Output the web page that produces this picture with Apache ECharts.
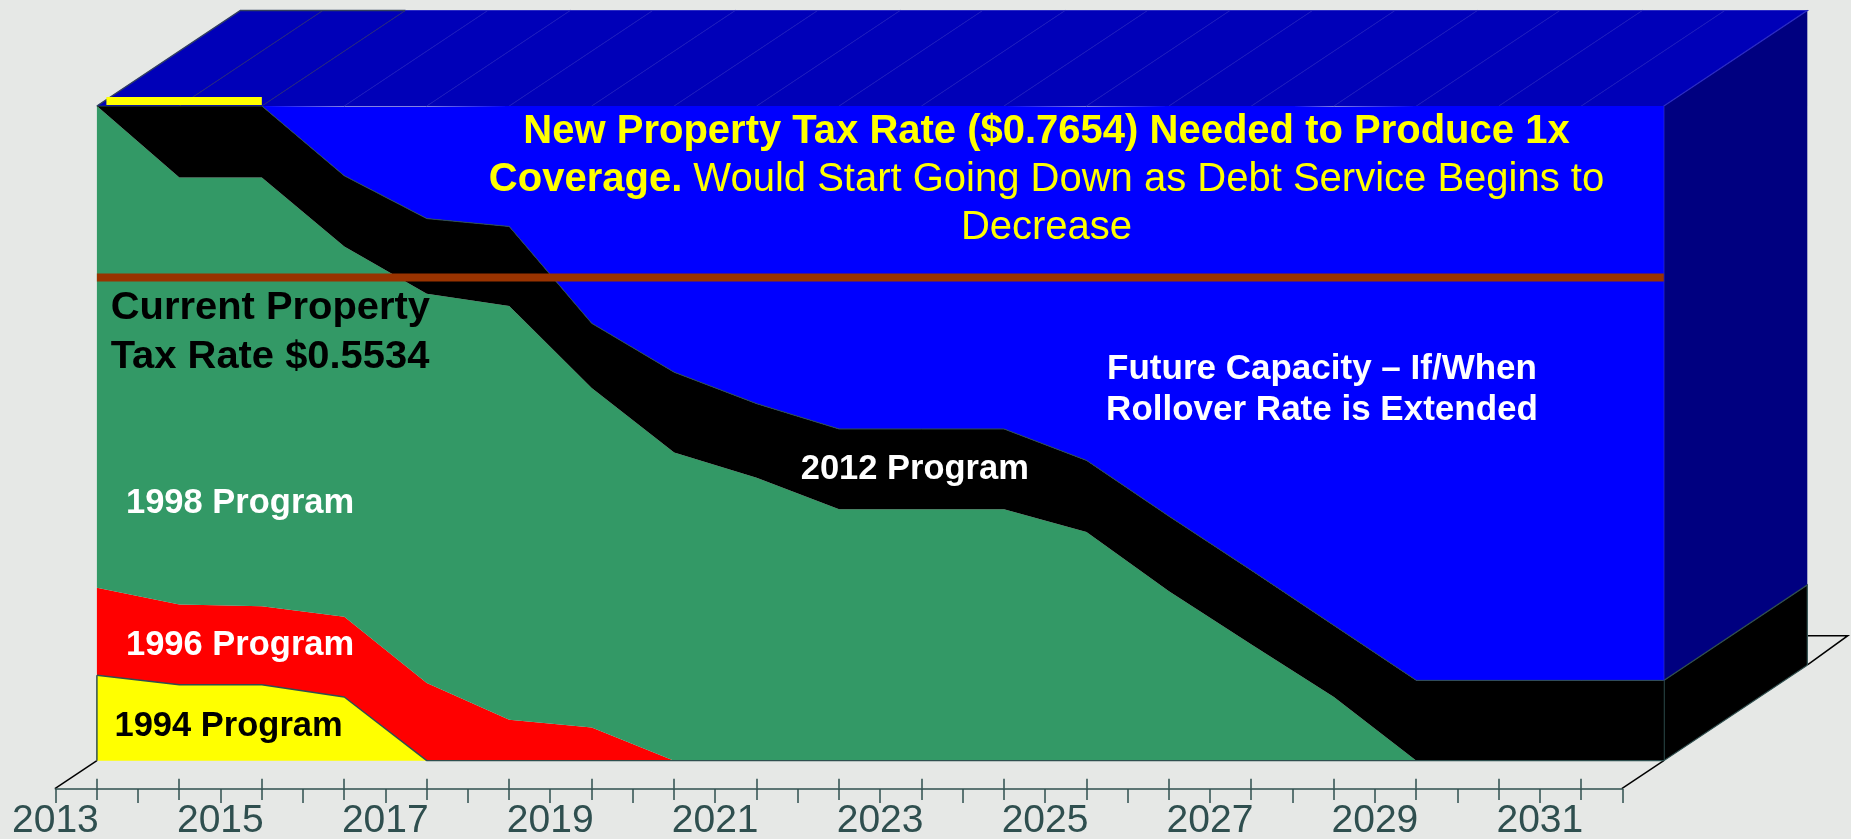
<!DOCTYPE html>
<html><head><meta charset="utf-8">
<style>html,body{margin:0;padding:0;background:#E6E8E6}#c{width:1851px;height:839px}</style>
<script src="https://cdn.jsdelivr.net/npm/echarts@6/dist/echarts.min.js"></script>
</head><body><div id="c"></div>
<script>
const categories = ['2013','2014','2015','2016','2017','2018','2019','2020','2021','2022','2023','2024','2025','2026','2027','2028','2029','2030','2031','2032'];
const tickLabels = [2013,2015,2017,2019,2021,2023,2025,2027,2029,2031];
const program1994 = [.098,.087,.087,.073,0,0,0,0,0,0,0,0,0,0,0,0,0,0,0,0];
const program1996 = [.100,.092,.090,.092,.089,.047,.038,0,0,0,0,0,0,0,0,0,0,0,0,0];
const program1998 = [.552,.489,.491,.424,.446,.474,.389,.353,.324,.288,.288,.288,.262,.194,.133,.073,0,0,0,0];
const program2012 = [0,.082,.082,.081,.086,.091,.074,.092,.085,.092,.092,.092,.082,.086,.085,.082,.092,.092,.092,.092];
const futureCapacity = [0,0,0,.079,.128,.138,.249,.306,.341,.370,.370,.370,.405,.470,.533,.594,.658,.658,.658,.658];
const currentRate = [.5534,.5534,.5534,.5534,.5534,.5534,.5534,.5534,.5534,.5534,.5534,.5534,.5534,.5534,.5534,.5534,.5534,.5534,.5534,.5534];
const yMax = 0.75;

const DX = 143.5, DY = -95.5;
const SLATE = '#2F4F4F';
const font = '"Liberation Sans", Arial, sans-serif';
const chart = echarts.init(document.getElementById('c'));
const last = categories.length - 1;
const off = (p, dx, dy) => [p[0] + dx, p[1] + dy];

function floorItem(params, api) {
  if (params.dataIndex !== 0) return null;
  const a = api.coord([0, 0]), b = api.coord([last, 0]);
  const st = {fill: null, stroke: '#000', lineWidth: 1.5};
  return {type: 'group', children: [
    {type: 'polyline', shape: {points: [off(a, -42, 28), a]}, style: st},
    {type: 'polyline', shape: {points: [off(b, -42, 28), b]}, style: st},
    {type: 'polyline', shape: {points: [off(b, 144, -96), off(b, 184, -125), off(b, 144, -125)]}, style: st}
  ]};
}
function depthItem(params, api) {
  const i = params.dataIndex;
  const a = api.coord([i, yMax]);
  const kids = [];
  if (i < last) {
    const b = api.coord([i + 1, yMax]);
    kids.push({type: 'polygon', shape: {points: [a, b, off(b, DX, DY), off(a, DX, DY)]},
      style: {fill: '#0000B8', stroke: '#0000B8', lineWidth: .5}});
  }
  if (i > 0 && i < last) {
    kids.push({type: 'polyline', z2: 2, shape: {points: [a, off(a, DX, DY)]},
      style: {fill: null, stroke: i <= 2 ? '#33375f' : '#2222bf', lineWidth: .7}});
  }
  if (i === 0) {
    kids.push({type: 'polyline', z2: 3, shape: {points: [a, off(a, DX, DY), off(api.coord([2, yMax]), DX, DY)]},
      style: {fill: null, stroke: '#33415f', lineWidth: 1.5}});
  }
  if (i === last) {
    const m = api.coord([i, program2012[i]]), z = api.coord([i, 0]);
    kids.push(
      {type: 'polygon', shape: {points: [a, off(a, DX, DY), off(m, DX, DY), m]}, style: {fill: '#000080'}},
      {type: 'polygon', z2: 1, shape: {points: [m, off(m, DX, DY), off(z, DX, DY), z]},
        style: {fill: '#000', stroke: SLATE, lineWidth: 1.2}},
      {type: 'polyline', z2: 3, shape: {points: [off(api.coord([2, yMax]), DX, DY), off(a, DX, DY), a, m]},
        style: {fill: null, stroke: '#2b2bc4', lineWidth: 1.2}},
      {type: 'polyline', z2: 3, shape: {points: [m, z]}, style: {fill: null, stroke: SLATE, lineWidth: 1.5}}
    );
  }
  return {type: 'group', children: kids};
}
function frontItem(params, api) {
  if (params.dataIndex !== 0) return null;
  const top = api.coord([0, yMax]), right = api.coord([2, yMax]);
  const y0 = api.coord([0, 0]), y1 = api.coord([0, program1994[0]]);
  return {type: 'group', children: [
    {type: 'rect', shape: {x: top[0] + 9.5, y: top[1] - 9, width: right[0] - top[0] - 9.5, height: 8}, style: {fill: '#FFFF00'}},
    {type: 'polyline', shape: {points: [y1, y0]}, style: {fill: null, stroke: SLATE, lineWidth: 1.5}}
  ]};
}
const areaSeries = (name, data, color, lineColor, lineWidth) => ({
  name, type: 'line', stack: 'rate', data, symbol: 'none', z: 2,
  areaStyle: {color, opacity: 1},
  lineStyle: {color: lineColor, width: lineWidth}
});
const custom = (renderItem, z) => ({
  type: 'custom', renderItem, z, silent: true,
  data: categories.map((_, i) => [i]), encode: {x: 0},
  xAxisIndex: 0, yAxisIndex: 0
});
const txt = (text, x, y, size, fill, weight, scaleX, align) => ({
  type: 'text', x, y, z: 20, scaleX: scaleX || 1,
  style: {text, fill, font: (weight || 'bold') + ' ' + size + 'px ' + font, textAlign: align || 'left', textVerticalAlign: 'middle'}
});

chart.setOption({
  backgroundColor: '#E6E8E6',
  animation: false,
  grid: [
    {left: 96.9, top: 106, width: 1566.9, height: 654.7},
    {left: 55.4, top: 788.7, width: 1566.9, height: 1}
  ],
  xAxis: [
    {type: 'category', data: categories, boundaryGap: false, show: false, gridIndex: 0},
    {type: 'value', gridIndex: 1, position: 'bottom', min: 2013, max: 2032, interval: 1,
      splitLine: {show: false},
      axisLine: {show: true, lineStyle: {color: SLATE, width: 1.5}},
      axisTick: {show: true, length: 14, lineStyle: {color: SLATE, width: 1.5}},
      minorTick: {show: true, splitNumber: 2, length: 11, lineStyle: {color: SLATE, width: 1.5}},
      axisLabel: {show: true, color: SLATE, fontFamily: font, fontSize: 39, margin: 13, hideOverlap: false, showMinLabel: true,
        formatter: v => tickLabels.includes(v) ? String(v) : ''}},
    {type: 'value', gridIndex: 1, position: 'top', min: 2013, max: 2032, interval: 1,
      splitLine: {show: false}, axisLine: {show: false}, axisTick: {show: false}, axisLabel: {show: false},
      minorTick: {show: true, splitNumber: 2, length: 10, lineStyle: {color: SLATE, width: 1.5}}}
  ],
  yAxis: [
    {type: 'value', min: 0, max: yMax, show: false, gridIndex: 0},
    {type: 'value', min: 0, max: 1, show: false, gridIndex: 1}
  ],
  series: [
    custom(floorItem, 0),
    custom(depthItem, 1),
    areaSeries('1994 Program', program1994, '#FFFF00', SLATE, 1.5),
    areaSeries('1996 Program', program1996, '#FF0000', 'rgba(0,0,0,0)', 0),
    areaSeries('1998 Program', program1998, '#339966', 'rgba(0,0,0,0)', 0),
    areaSeries('2012 Program', program2012, '#000000', SLATE, 1),
    areaSeries('Future Capacity', futureCapacity, '#0000FF', 'rgba(0,0,0,0)', 0),
    {name: 'Current Property Tax Rate', type: 'line', data: currentRate, symbol: 'none', z: 5,
      lineStyle: {color: '#993300', width: 8, cap: 'butt'}},
    custom(frontItem, 6)
  ],
  graphic: [
    txt('New Property Tax Rate ($0.7654) Needed to Produce 1x', 1046.5, 132, 40, '#FFFF00', 'bold', 1, 'center'),
    {type: 'text', x: 1046.5, y: 179.5, z: 20, style: {
      text: '{b|Coverage.}{r| Would Start Going Down as Debt Service Begins to}', textAlign: 'center', textVerticalAlign: 'middle',
      rich: {b: {fill: '#FFFF00', font: 'bold 40px ' + font}, r: {fill: '#FFFF00', font: 'normal 40px ' + font}}}},
    txt('Decrease', 1046.5, 228, 40, '#FFFF00', 'normal', 1, 'center'),
    txt('Current Property', 110.7, 308.5, 38, '#000', 'bold', 1.05),
    txt('Tax Rate $0.5534', 110.7, 357.5, 38, '#000', 'bold', 1.05),
    txt('1998 Program', 126, 503.5, 34.5, '#FFF', 'bold', 1),
    txt('1996 Program', 126, 645.5, 34.5, '#FFF', 'bold', 1),
    txt('1994 Program', 114.5, 726, 34.5, '#000', 'bold', 1),
    txt('2012 Program', 800.7, 469.5, 34.5, '#FFF', 'bold', 1),
    txt('Future Capacity \u2013 If/When', 1322, 369, 35, '#FFF', 'bold', 1, 'center'),
    txt('Rollover Rate is Extended', 1322, 410, 35, '#FFF', 'bold', 1, 'center')
  ]
});
</script></body></html>
